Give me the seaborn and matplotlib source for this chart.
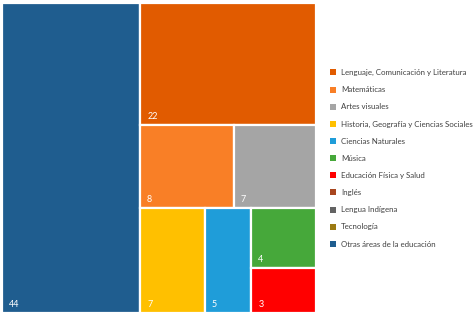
import matplotlib
matplotlib.use("Agg")
import matplotlib.pyplot as plt
from matplotlib.patches import Rectangle, Patch
import seaborn as sns

categories = ["Lenguaje, Comunicación y Literatura", "Matemáticas", "Artes visuales",
              "Historia, Geografía y Ciencias Sociales", "Ciencias Naturales", "Música",
              "Educación Física y Salud", "Inglés", "Lengua Indígena", "Tecnología",
              "Otras áreas de la educación"]
values = [22, 8, 7, 7, 5, 4, 3, 0, 0, 0, 44]
colors = ["#E15B00", "#F97F26", "#A5A5A5", "#FFC000", "#1F9DD9", "#46A83A",
          "#FF0000", "#A8461F", "#636363", "#9C7A12", "#1F5D8F"]

# nesting of the treemap (split direction, children by category index)
layout = ("x", [10, ("y", [0, ("y", [("x", [1, 2]),
                                      ("x", [3, 4, ("y", [5, 6])])])])])

sns.set_theme(style="white")
plt.rcParams['font.family'] = ['Lato', 'DejaVu Sans']

fig = plt.figure(figsize=(4.75, 3.16), dpi=100)
W, H = 475, 316
ax = fig.add_axes([2 / W, 3 / H, 314 / W, 310 / H])
ax.set_xlim(0, 1)
ax.set_ylim(0, 1)
ax.axis("off")


def total(node):
    if isinstance(node, int):
        return values[node]
    return sum(total(c) for c in node[1])


def draw(node, x0, y0, w, h):
    if isinstance(node, int):
        ax.add_patch(Rectangle((x0, y0), w, h, facecolor=colors[node],
                               edgecolor="white", linewidth=1.6))
        ax.annotate(str(values[node]), xy=(x0, y0), xytext=(5, 3),
                    textcoords="offset points", color="white", fontsize=6.5,
                    ha="left", va="bottom")
        return
    direction, children = node
    t = total(node)
    if direction == "x":
        cx = x0
        for c in children:
            cw = w * total(c) / t
            draw(c, cx, y0, cw, h)
            cx += cw
    else:
        cy = y0 + h
        for c in children:
            ch = h * total(c) / t
            cy -= ch
            draw(c, x0, cy, w, ch)


draw(layout, 0, 0, 1, 1)

handles = [Patch(facecolor=c, edgecolor="none") for c in colors]
fig.legend(handles, categories, loc="upper left",
           bbox_to_anchor=(323 / W, 1 - 62 / H), frameon=False,
           prop={"family": ["Lato", "DejaVu Sans"], "size": 5.7},
           handlelength=0.8, handleheight=0.8,
           handletextpad=0.55, labelspacing=1.28, labelcolor="#404040")

fig.savefig("out.png", dpi=100, facecolor="white")
